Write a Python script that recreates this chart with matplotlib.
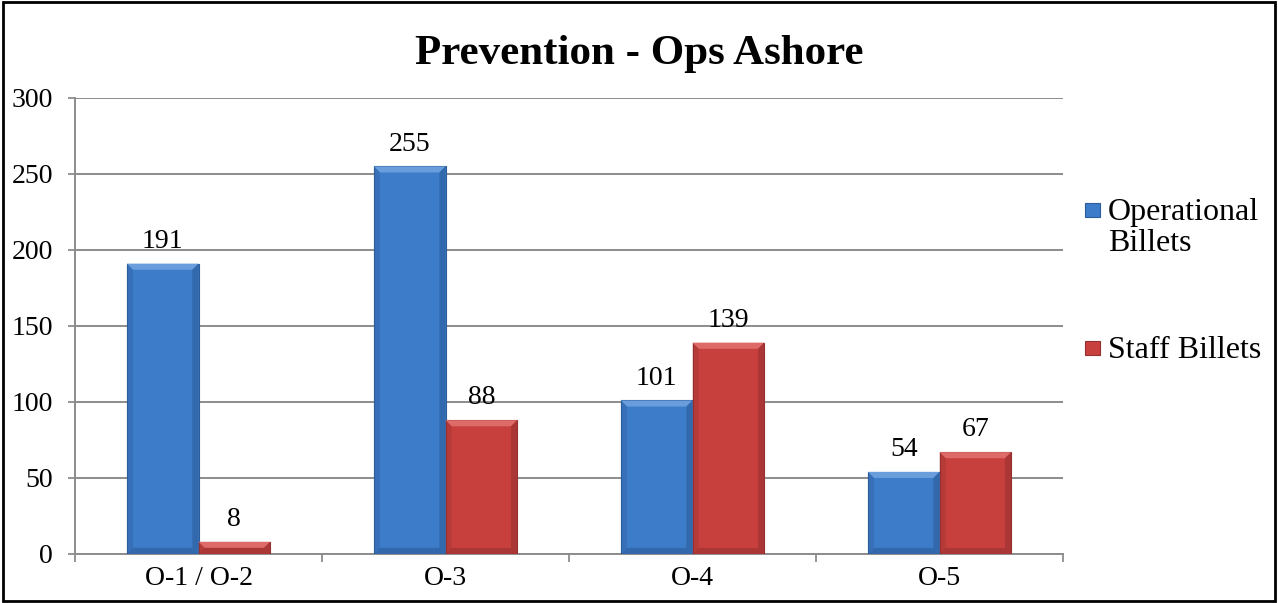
import numpy as np
import matplotlib
matplotlib.use("Agg")
import matplotlib.pyplot as plt
from matplotlib.patches import Polygon, Rectangle

# data
categories = ["O-1 / O-2", "O-3", "O-4", "O-5"]
operational = [191, 255, 101, 54]
staff = [8, 88, 139, 67]
series_names = ["Operational\nBillets", "Staff Billets"]
y_ticks = [0, 50, 100, 150, 200, 250, 300]

plt.rcParams["font.family"] = ["Liberation Serif", "DejaVu Serif"]

blue = "#3D7CC9"
red = "#C8403D"
blue_dark = "#2C5C99"
red_dark = "#963030"
blue_light = "#6A9DDB"
red_light = "#DE6B68"
grid_col = "#8C8C8C"

fig = plt.figure(figsize=(12.78, 6.03), dpi=100)
ax = fig.add_axes([0.0587, 0.0813, 0.7731, 0.7562])

x = np.arange(len(categories))
w = 0.29


def bevel_bars(xs, vals, face, dark, light):
    bars = ax.bar(xs, vals, width=w, color=face, edgecolor=dark, linewidth=0.8, zorder=3)
    bx = 0.025  # bevel width in x data units
    by = 4.0    # bevel height in y data units
    for r in bars:
        x0, y0 = r.get_x(), r.get_y()
        x1, y1 = x0 + r.get_width(), y0 + r.get_height()
        b = min(by, r.get_height() / 2)
        # top highlight
        ax.add_patch(Polygon([[x0, y1], [x1, y1], [x1 - bx, y1 - b], [x0 + bx, y1 - b]],
                             closed=True, color=light, lw=0, zorder=4))
        # right shade
        ax.add_patch(Polygon([[x1, y1], [x1, y0], [x1 - bx, y0 + b], [x1 - bx, y1 - b]],
                             closed=True, color=dark, lw=0, alpha=0.6, zorder=4))
        # left shade
        ax.add_patch(Polygon([[x0, y1], [x0, y0], [x0 + bx, y0 + b], [x0 + bx, y1 - b]],
                             closed=True, color=dark, lw=0, alpha=0.35, zorder=4))
        # bottom shade
        ax.add_patch(Polygon([[x0, y0], [x1, y0], [x1 - bx, y0 + b], [x0 + bx, y0 + b]],
                             closed=True, color=dark, lw=0, alpha=0.6, zorder=4))
    for r, v in zip(bars, vals):
        ax.annotate(str(v), (r.get_x() + r.get_width() / 2, v), xytext=(0, 7),
                    textcoords="offset points", ha="center", va="bottom", fontsize=20)
    return bars


b1 = bevel_bars(x - w / 2, operational, blue, blue_dark, blue_light)
b2 = bevel_bars(x + w / 2, staff, red, red_dark, red_light)

ax.set_xlim(-0.5, len(categories) - 0.5)
ax.set_ylim(0, 300)
ax.set_yticks(y_ticks)
ax.set_yticklabels([str(t) for t in y_ticks], fontsize=20)
ax.tick_params(axis="y", length=5, width=1.3, color=grid_col, pad=11)

ax.set_xticks(x)
ax.set_xticklabels(categories, fontsize=20)
ax.set_xticks(np.arange(len(categories) + 1) - 0.5, minor=True)
ax.tick_params(axis="x", which="major", length=0, pad=9)
ax.tick_params(axis="x", which="minor", length=6, width=1.3, color=grid_col)

ax.grid(axis="y", color=grid_col, linewidth=1.4, zorder=0)
ax.set_axisbelow(True)
for s in ["top", "right"]:
    ax.spines[s].set_visible(False)
for s in ["left", "bottom"]:
    ax.spines[s].set_color(grid_col)
    ax.spines[s].set_linewidth(1.4)

fig.text(0.5, 0.91, "Prevention - Ops Ashore", fontsize=31, fontweight="bold",
         ha="center", va="center")

# legend drawn by hand so the marker sits on the first line of a wrapped label
leg_faces = [(blue, blue_dark), (red, red_dark)]
leg_tops = [1 - 198 / 603, 1 - 336 / 603]
for (fc, ec), name, yt in zip(leg_faces, series_names, leg_tops):
    fig.patches.append(Rectangle((1085 / 1278, yt - 19 / 603), 15 / 1278, 14 / 603,
                                 transform=fig.transFigure, facecolor=fc, edgecolor=ec, lw=0.8))
    fig.text(1108 / 1278, yt, name, fontsize=23, ha="left", va="top", linespacing=1.08)

# outer border
fig.patches.append(Rectangle((0.002, 0.003), 0.996, 0.994, transform=fig.transFigure,
                             fill=False, edgecolor="black", linewidth=2))

fig.savefig("out.png", dpi=100)
